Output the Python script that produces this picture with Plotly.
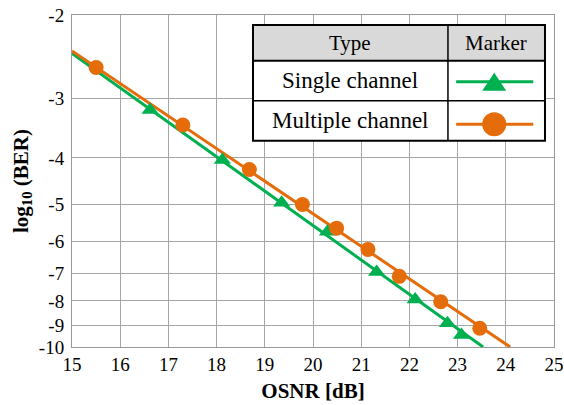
import plotly.graph_objects as go

# ---------------- data ----------------
osnr_single = [16.62, 18.12, 19.35, 20.30, 21.32, 22.12, 22.79, 23.08]
logber_single = [-3.17, -4.04, -4.97, -5.72, -6.95, -7.94, -8.91, -9.44]

osnr_multi = [15.50, 17.30, 18.68, 19.78, 20.49, 21.14, 21.79, 22.65, 23.46]
logber_multi = [-2.58, -3.41, -4.23, -5.01, -5.62, -6.23, -7.10, -8.03, -9.13]

# straight fit lines (end points)
fit_single_x = [15.0, 23.53]
fit_single_y = [-2.41, -10.0]
fit_multi_x = [15.0, 24.09]
fit_multi_y = [-2.38, -10.0]

y_tick_values = [-2, -3, -4, -5, -6, -7, -8, -9, -10]
x_tick_values = [15, 16, 17, 18, 19, 20, 21, 22, 23, 24, 25]

table_header = ["Type", "Marker"]
table_rows = ["Single channel", "Multiple channel"]

GREEN = "#00b050"
ORANGE = "#e46c0a"
FONT = "Liberation Serif, Times New Roman, serif"


def neg(v):
    return [-a for a in v]


fig = go.Figure()
fig.add_trace(go.Scatter(x=fit_single_x, y=neg(fit_single_y), mode="lines",
                         line=dict(color=GREEN, width=3), showlegend=False))
fig.add_trace(go.Scatter(x=fit_multi_x, y=neg(fit_multi_y), mode="lines",
                         line=dict(color=ORANGE, width=3), showlegend=False))
fig.add_trace(go.Scatter(x=osnr_single, y=neg(logber_single), mode="markers",
                         marker=dict(symbol="triangle-up", size=15, color=GREEN),
                         showlegend=False))
fig.add_trace(go.Scatter(x=osnr_multi, y=neg(logber_multi), mode="markers",
                         marker=dict(symbol="circle", size=15, color=ORANGE),
                         showlegend=False))

# ---------------- table-style legend (layout decoration) ----------------
L, R, C = 0.3755, 0.9813, 0.780
T, H1, H2, B = 0.9699, 0.8623, 0.7419, 0.6214
D = dict(xref="x domain", yref="y domain", layer="above")

shapes = [
    dict(type="rect", x0=L, x1=R, y0=B, y1=T, fillcolor="white", line=dict(width=0), **D),
    dict(type="rect", x0=L, x1=R, y0=H1, y1=T, fillcolor="#d9d9d9", line=dict(width=0), **D),
    dict(type="line", x0=L, x1=R, y0=H1, y1=H1, line=dict(color="black", width=2), **D),
    dict(type="line", x0=L, x1=R, y0=H2, y1=H2, line=dict(color="black", width=1.5), **D),
    dict(type="line", x0=C, x1=C, y0=B, y1=T, line=dict(color="black", width=1.5), **D),
    dict(type="rect", x0=L, x1=R, y0=B, y1=T, fillcolor="rgba(0,0,0,0)",
         line=dict(color="black", width=2), **D),
]

gx0, gx1, gxm = 0.797, 0.957, 0.876
gy1, gy2 = 0.799, 0.671
shapes += [
    dict(type="line", x0=gx0, x1=gx1, y0=gy1, y1=gy1, line=dict(color=GREEN, width=3), **D),
    dict(type="path", xsizemode="pixel", ysizemode="pixel", xanchor=gxm, yanchor=gy1,
         path="M -12,-9 L 12,-9 L 0,9 Z", fillcolor=GREEN, line=dict(width=0), **D),
    dict(type="line", x0=gx0, x1=gx1, y0=gy2, y1=gy2, line=dict(color=ORANGE, width=3), **D),
    dict(type="circle", xsizemode="pixel", ysizemode="pixel", xanchor=gxm, yanchor=gy2,
         x0=-12, x1=12, y0=-12, y1=12, fillcolor=ORANGE, line=dict(width=0), **D),
]

row_y = [(H1 + H2) / 2, (H2 + B) / 2]
annotations = [
    dict(text=table_header[0], x=(L + C) / 2, y=(T + H1) / 2, size=21),
    dict(text=table_header[1], x=(C + R) / 2, y=(T + H1) / 2, size=21),
    dict(text=table_rows[0], x=(L + C) / 2, y=row_y[0], size=23),
    dict(text=table_rows[1], x=(L + C) / 2, y=row_y[1], size=23),
]
for a in annotations:
    sz = a.pop("size")
    a.update(xref="x domain", yref="y domain", showarrow=False,
             xanchor="center", yanchor="middle",
             font=dict(family=FONT, size=sz, color="black"))

fig.update_layout(
    width=564, height=405,
    margin=dict(l=72, r=10, t=15, b=58),
    paper_bgcolor="white", plot_bgcolor="white",
    font=dict(family=FONT, size=19, color="black"),
    shapes=shapes, annotations=annotations,
    xaxis=dict(range=[15, 25], tickvals=x_tick_values, showgrid=True,
               gridcolor="#a6a6a6", gridwidth=1, showline=True, mirror=True,
               linecolor="#999999", linewidth=1, zeroline=False, ticks="",
               tickfont=dict(size=19), automargin=False, ticklabeloverflow="allow",
               title=dict(text="<b>OSNR [dB]</b>", font=dict(size=21), standoff=9)),
    yaxis=dict(type="log", range=[1, 0.30103], autorange=False,
               tickvals=neg(y_tick_values), ticktext=[str(v) for v in y_tick_values],
               showgrid=True, gridcolor="#a6a6a6", gridwidth=1, showline=True,
               mirror=True, linecolor="#999999", linewidth=1, zeroline=False,
               ticks="", tickfont=dict(size=19), automargin=False,
               ticklabelstandoff=3, ticklabeloverflow="allow",
               title=dict(text="<b>log<sub>10</sub> (BER)</b>", font=dict(size=21),
                          standoff=4)),
)

# remove the browser's default 8px page margin so the figure fills the window
fig.write_html("out.html",
               config={"displayModeBar": False},
               post_script="document.body.style.margin='0';"
                           "document.body.style.overflow='hidden';")
